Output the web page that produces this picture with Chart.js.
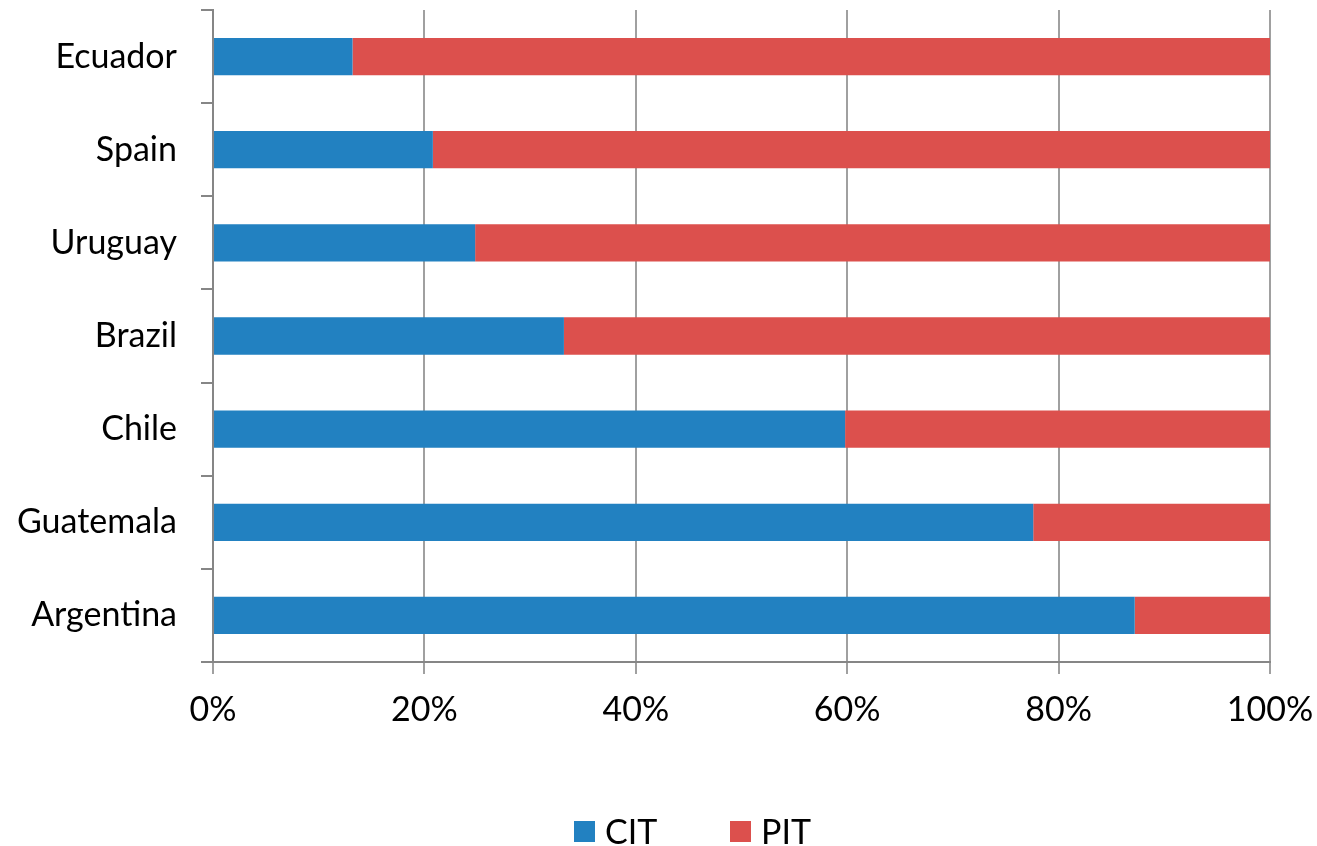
<!DOCTYPE html>
<html>
<head>
<meta charset="utf-8">
<script src="https://cdn.jsdelivr.net/npm/chart.js@4.4.1/dist/chart.umd.min.js"></script>
<style>
    body { margin: 0; background: #fff; }
    #wrap { position: relative; width: 1317px; height: 846px; }
    #legend { position: absolute; top: 0; left: 0; width: 1317px; height: 846px; pointer-events: none;
              font-family: Lato, sans-serif; font-size: 34px; color: #000; }
    .box { position: absolute; width: 21px; height: 21px; top: 821px; }
    .lbl { position: absolute; top: 811px; line-height: 40px; }
</style>
</head>
<body>
<div id="wrap">
    <canvas id="taxChart" width="1317" height="846"></canvas>
    <div id="legend"></div>
</div>
<script>
const countries = ["Ecuador", "Spain", "Uruguay", "Brazil", "Chile", "Guatemala", "Argentina"];
const citShare = [13.2, 20.8, 24.8, 33.2, 59.8, 77.6, 87.2];
const pitShare = [86.8, 79.2, 75.2, 66.8, 40.2, 22.4, 12.8];
const xTicks = [0, 20, 40, 60, 80, 100];
const seriesNames = ["CIT", "PIT"];
const colors = ["#2281c1", "#dc504d"];

document.addEventListener("DOMContentLoaded", function () {
    const font = { family: "Lato, sans-serif", size: 34 };
    const ctx = document.getElementById("taxChart").getContext("2d");
    new Chart(ctx, {
        type: "bar",
        data: {
            labels: countries,
            datasets: [
                { label: seriesNames[0], data: citShare, backgroundColor: colors[0] },
                { label: seriesNames[1], data: pitShare, backgroundColor: colors[1] }
            ]
        },
        options: {
            indexAxis: "y",
            responsive: false,
            animation: false,
            layout: { padding: { top: 10, right: 47, bottom: 114, left: 0 } },
            datasets: { bar: { barPercentage: 0.4, categoryPercentage: 1.0, borderWidth: 0 } },
            plugins: { legend: { display: false }, tooltip: { enabled: false } },
            scales: {
                x: {
                    stacked: true,
                    min: 0,
                    max: 100,
                    afterBuildTicks: function (scale) {
                        scale.ticks = xTicks.map(v => ({ value: v }));
                    },
                    afterFit: function (scale) {
                        scale.height = 70;
                        scale.paddingLeft = 0;
                        scale.paddingRight = 0;
                    },
                    ticks: { callback: v => v + "%", color: "#000", font: font, padding: 16, maxRotation: 0 },
                    grid: { color: "#a0a0a0", lineWidth: 2, tickLength: 12 },
                    border: { color: "#868686", width: 2 }
                },
                y: {
                    stacked: true,
                    afterFit: function (scale) {
                        scale.width = 213;
                        scale.paddingTop = 0;
                        scale.paddingBottom = 0;
                    },
                    ticks: { color: "#000", font: font, padding: 24 },
                    grid: { drawOnChartArea: false, color: "#868686", lineWidth: 2, tickLength: 12, offset: true },
                    border: { color: "#868686", width: 2 }
                }
            }
        }
    });

    // legend below the chart
    const legend = document.getElementById("legend");
    const boxLeft = [574, 730];
    seriesNames.forEach(function (name, i) {
        const box = document.createElement("div");
        box.className = "box";
        box.style.left = boxLeft[i] + "px";
        box.style.background = colors[i];
        legend.appendChild(box);
        const lbl = document.createElement("div");
        lbl.className = "lbl";
        lbl.style.left = (boxLeft[i] + 31) + "px";
        lbl.textContent = name;
        legend.appendChild(lbl);
    });
});
</script>
</body>
</html>
